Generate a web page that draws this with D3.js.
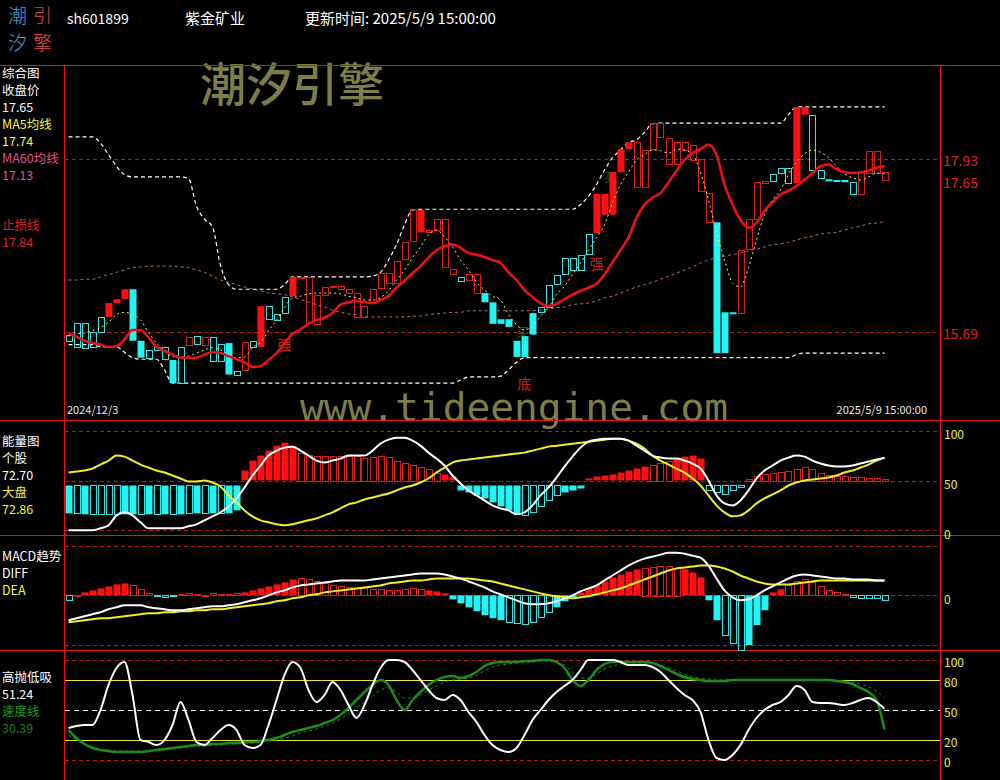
<!DOCTYPE html>
<html><head><meta charset="utf-8">
<script src="https://cdn.jsdelivr.net/npm/d3@7"></script>
<style>html,body{margin:0;background:#000;}svg{display:block;}</style>
</head><body>
<svg id="c" width="1000" height="780"></svg>
<script>
// ---------------- DATA ----------------
const stockCode = "sh601899";
const stockName = "紫金矿业";
const updateTime = "更新时间: 2025/5/9 15:00:00";
const firstDate = "2024/12/3";
const lastDate = "2025/5/9 15:00:00";

// candle bodies (box top / box bottom) and style: R filled red, r hollow red, C filled cyan, c hollow cyan
const bodyTop = [15.65,15.80,15.80,15.68,15.88,16.06,16.11,16.24,16.24,15.57,15.45,15.49,15.49,15.32,15.49,15.62,15.63,15.62,15.62,15.53,15.54,15.18,15.55,15.57,16.02,16.02,15.92,16.14,16.40,16.40,16.40,16.17,16.27,16.28,16.28,16.24,16.19,16.02,16.24,16.45,16.45,16.61,16.85,17.28,17.27,17.01,17.15,17.15,16.50,16.40,16.44,16.44,16.19,16.07,15.85,15.85,15.57,15.63,15.93,16.01,16.30,16.43,16.65,16.65,16.69,16.96,17.48,17.48,17.76,18.06,18.15,18.15,18.05,18.40,18.40,18.21,18.15,18.15,18.12,17.93,17.49,17.11,15.94,15.94,16.75,17.15,17.63,17.65,17.74,17.82,17.82,18.61,18.61,18.51,17.79,17.67,17.66,17.66,17.63,17.76,18.04,18.04,17.76];
const bodyBot = [15.57,15.49,15.48,15.48,15.68,15.88,16.06,16.11,15.57,15.35,15.35,15.45,15.33,15.02,15.02,15.52,15.52,15.52,15.31,15.31,15.13,15.13,15.19,15.49,15.49,15.85,15.84,15.93,16.15,16.39,15.80,15.79,16.17,16.27,16.24,16.19,15.88,15.88,16.06,16.26,16.32,16.32,16.63,16.87,16.98,16.98,17.01,16.52,16.43,16.35,16.36,16.19,16.07,15.79,15.79,15.75,15.36,15.36,15.65,15.94,16.01,16.31,16.44,16.49,16.49,16.70,16.97,17.21,17.21,17.76,18.06,17.57,17.57,18.06,18.22,17.87,17.87,18.05,17.93,17.52,17.11,15.41,15.41,15.93,15.93,16.76,17.15,17.63,17.65,17.75,17.63,17.62,18.51,17.80,17.69,17.65,17.65,17.63,17.48,17.48,17.76,17.76,17.65];
const bodyKind = "cccccRRRCCcccCcrcrccCcrcRcccRrrrrrrrrrrrrrrrRrrrrcrrCCCCCCCcccccccRRRRRrrrrrrrrrrCCCrrrrcccRRccCCCcrrrr";

const ma5 = [15.63,15.66,15.67,15.70,15.74,15.81,15.91,15.94,15.91,15.84,15.68,15.54,15.44,15.36,15.36,15.37,15.41,15.45,15.48,15.45,15.39,15.35,15.36,15.48,15.55,15.70,15.84,16.00,16.13,16.15,16.18,16.19,16.19,16.19,16.18,16.15,16.13,16.10,16.10,16.13,16.22,16.36,16.49,16.65,16.79,16.95,17.01,16.92,16.79,16.62,16.49,16.33,16.23,16.15,16.10,15.91,15.78,15.71,15.76,15.89,16.00,16.17,16.28,16.43,16.58,16.75,16.91,17.08,17.36,17.60,17.76,17.92,17.99,18.05,18.04,18.01,18.06,18.05,17.99,17.76,17.40,16.98,16.62,16.32,16.27,16.52,16.88,17.21,17.40,17.53,17.73,17.89,18.00,18.05,18.02,17.95,17.84,17.74,17.69,17.66,17.70,17.75,17.74];
const ma60 = [16.36,16.36,16.37,16.37,16.40,16.43,16.46,16.49,16.52,16.53,16.54,16.54,16.54,16.54,16.53,16.52,16.49,16.46,16.41,16.36,16.33,16.30,16.27,16.24,16.22,16.19,16.18,16.17,16.14,16.11,16.07,16.04,16.01,15.97,15.94,15.92,15.91,15.89,15.88,15.88,15.88,15.88,15.88,15.89,15.89,15.91,15.92,15.93,15.94,15.94,15.96,15.96,15.96,15.96,15.96,15.96,15.96,15.96,15.96,15.97,15.98,16.00,16.01,16.04,16.05,16.06,16.09,16.13,16.15,16.19,16.23,16.27,16.30,16.33,16.37,16.41,16.45,16.49,16.53,16.58,16.62,16.65,16.67,16.69,16.71,16.74,16.76,16.79,16.82,16.83,16.85,16.88,16.91,16.93,16.96,16.97,16.98,17.01,17.04,17.06,17.09,17.10,17.12];
const stopLine = [15.67,15.62,15.57,15.54,15.52,15.49,15.50,15.59,15.71,15.71,15.61,15.49,15.44,15.39,15.35,15.35,15.35,15.39,15.42,15.41,15.37,15.33,15.29,15.23,15.24,15.32,15.41,15.54,15.66,15.72,15.79,15.84,15.87,15.93,16.04,16.07,16.09,16.07,16.06,16.10,16.15,16.26,16.35,16.45,16.54,16.65,16.75,16.80,16.82,16.78,16.71,16.69,16.66,16.62,16.58,16.46,16.36,16.23,16.14,16.06,16.02,16.05,16.11,16.17,16.22,16.26,16.31,16.43,16.59,16.75,16.91,17.17,17.34,17.43,17.49,17.63,17.78,17.92,18.01,18.06,18.12,17.99,17.60,17.34,17.14,17.04,17.10,17.26,17.37,17.47,17.52,17.58,17.66,17.75,17.84,17.86,17.80,17.76,17.75,17.76,17.78,17.82,17.84];
const upperBand = [18.22,18.22,18.22,18.22,18.14,17.99,17.84,17.73,17.70,17.70,17.70,17.70,17.70,17.70,17.70,17.68,17.32,17.15,17.05,16.55,16.30,16.24,16.24,16.24,16.24,16.24,16.24,16.30,16.40,16.40,16.40,16.40,16.40,16.40,16.40,16.40,16.40,16.40,16.41,16.46,16.62,16.82,17.08,17.27,17.28,17.28,17.28,17.28,17.28,17.28,17.28,17.28,17.28,17.28,17.28,17.28,17.28,17.28,17.28,17.28,17.28,17.28,17.28,17.28,17.34,17.45,17.60,17.79,17.95,18.05,18.15,18.18,18.28,18.39,18.40,18.40,18.40,18.40,18.40,18.40,18.40,18.40,18.40,18.40,18.40,18.40,18.40,18.40,18.40,18.40,18.51,18.61,18.61,18.61,18.61,18.61,18.61,18.61,18.61,18.61,18.61,18.61,18.61];
const lowerBand = [15.52,15.52,15.52,15.52,15.49,15.49,15.49,15.42,15.35,15.33,15.33,15.33,15.19,15.02,15.02,15.02,15.02,15.02,15.02,15.02,15.02,15.02,15.02,15.02,15.02,15.02,15.02,15.02,15.02,15.02,15.02,15.02,15.02,15.02,15.02,15.02,15.02,15.02,15.02,15.02,15.02,15.02,15.02,15.02,15.02,15.02,15.02,15.02,15.02,15.06,15.10,15.10,15.10,15.10,15.11,15.19,15.29,15.35,15.35,15.35,15.35,15.35,15.35,15.35,15.35,15.35,15.35,15.35,15.35,15.35,15.35,15.35,15.35,15.35,15.35,15.35,15.35,15.35,15.35,15.35,15.35,15.35,15.35,15.35,15.35,15.35,15.35,15.35,15.35,15.35,15.35,15.39,15.41,15.41,15.41,15.41,15.41,15.41,15.41,15.41,15.41,15.41,15.41];
const priceMarks = [17.93, 15.69];
const lastClose = 17.65;
const ma60Last = 17.13;
const signals = [{i:27, p:15.45, t:"强", c:"#c82020"},{i:66, p:16.50, t:"强", c:"#c82020"},{i:57, p:15.02, t:"底", c:"#c82020", dy:6}];
const buyMarks = [{i:56, p:15.62, t:"买"}, {i:67, p:17.63, t:"买"}];

// energy panel
const energyStock = [0,0,0,0,2,5,15,18,15,8,2,2,2,2,2,4,6,10,14,18,24,32,43,55,65,75,80,83,84,80,75,70,68,70,72,75,75,75,80,87,91,93,93,90,85,78,72,65,55,47,40,35,30,25,22,20,16,18,25,35,43,53,64,74,83,89,91,92,92,92,90,85,80,75,73,72,72,70,67,62,50,35,27,25,30,40,52,60,65,70,73,75,74,70,67,65,64,64,65,67,69,71,72.7];
const energyMarket = [58,59,60,62,66,70,75,74,70,66,63,60,58,55,52,49,49,50,48,44,35,28,20,14,10,8,6,5,6,8,10,12,15,18,22,26,28,31,33,35,37,40,43,45,48,52,58,63,68,70,71,72,73,74,75,76,77,78,80,82,84,85,86,87,88,89,90,91,92,92,90,87,82,75,70,66,62,58,52,45,35,25,18,14,15,20,27,32,36,40,45,48,50,51,52,53,55,58,60,63,66,70,72.86];
const energyBar = [17,17,16,16,16,16,16,16,16,16,16,16,16,16,16,17,17,17,17,17,17,20,60,70,75,80,85,88,85,78,76,75,75,75,75,75,75,73,74,75,74,70,68,66,64,62,58,56,54,40,38,35,32,28,24,20,17,15,18,24,30,35,38,40,42,52,54,55,56,58,60,62,64,66,68,70,72,74,75,72,40,38,36,40,43,52,55,57,58,59,60,62,64,62,58,56,55,55,54,54,53,53,52];
const energyFill = "FHFHHHHFFHFHFHFHFHFHFFFFFFFFFHHHHHHHHHHHHHHHHHHFFFFFFFFFFHHHHHFFFFFFFFFFFHHHFFFFHHHHHHHHHHHHHHHHHHHHHHH";
const energyTicks = [100, 50, 0];
const energyWeakBase = 45;

// MACD panel
const diff = [-0.25,-0.23,-0.21,-0.19,-0.17,-0.14,-0.12,-0.10,-0.10,-0.10,-0.12,-0.13,-0.14,-0.15,-0.15,-0.14,-0.13,-0.12,-0.11,-0.11,-0.10,-0.09,-0.07,-0.05,-0.03,0.00,0.03,0.05,0.08,0.10,0.11,0.12,0.13,0.14,0.15,0.15,0.15,0.15,0.16,0.17,0.18,0.19,0.20,0.21,0.22,0.22,0.22,0.21,0.19,0.17,0.14,0.11,0.08,0.04,0.01,-0.02,-0.05,-0.08,-0.09,-0.09,-0.08,-0.06,-0.03,0.00,0.04,0.07,0.10,0.15,0.20,0.25,0.30,0.34,0.37,0.39,0.41,0.43,0.43,0.42,0.40,0.38,0.30,0.17,0.05,-0.02,-0.05,-0.04,0.00,0.05,0.09,0.13,0.17,0.20,0.21,0.20,0.19,0.18,0.17,0.17,0.16,0.16,0.16,0.15,0.15];
const dea = [-0.27,-0.26,-0.25,-0.24,-0.23,-0.23,-0.22,-0.21,-0.20,-0.19,-0.18,-0.18,-0.17,-0.17,-0.16,-0.16,-0.15,-0.15,-0.14,-0.14,-0.13,-0.12,-0.11,-0.10,-0.09,-0.08,-0.06,-0.05,-0.03,-0.02,0.00,0.01,0.03,0.04,0.05,0.06,0.07,0.08,0.09,0.10,0.12,0.13,0.14,0.15,0.15,0.16,0.17,0.17,0.17,0.17,0.17,0.16,0.15,0.14,0.12,0.10,0.08,0.06,0.04,0.02,0.00,-0.01,-0.02,-0.03,-0.02,-0.01,0.01,0.03,0.05,0.07,0.10,0.13,0.16,0.19,0.22,0.25,0.27,0.28,0.29,0.30,0.30,0.29,0.27,0.24,0.20,0.17,0.14,0.12,0.11,0.11,0.11,0.12,0.13,0.14,0.15,0.15,0.15,0.15,0.15,0.15,0.15,0.15,0.15];
const macdBar = [-0.05,0.00,0.03,0.05,0.07,0.09,0.11,0.12,0.10,0.06,0.02,-0.01,-0.02,-0.01,0.01,0.02,0.01,0.00,0.02,0.01,0.01,0.02,0.03,0.05,0.07,0.09,0.11,0.13,0.16,0.17,0.16,0.14,0.12,0.10,0.09,0.08,0.07,0.07,0.06,0.06,0.05,0.05,0.06,0.07,0.06,0.05,0.04,0.02,-0.04,-0.08,-0.12,-0.16,-0.20,-0.23,-0.25,-0.27,-0.28,-0.29,-0.27,-0.22,-0.17,-0.12,-0.06,-0.02,0.03,0.07,0.10,0.14,0.18,0.21,0.24,0.26,0.28,0.29,0.30,0.30,0.28,0.26,0.23,0.18,-0.05,-0.25,-0.40,-0.48,-0.55,-0.50,-0.30,-0.15,0.03,0.06,0.10,0.14,0.16,0.13,0.09,0.05,0.03,0.01,-0.02,-0.03,-0.03,-0.03,-0.05];
const macdFill = "HHFFFFFFHHHHHHHHHHHHHHFFFFFFFHHHHHHHHHHHHHHHHFFFFFFFFFFHHHHHHFFFFFFFFFFFHHHHHFFFFFHHHFFFFFHHHHHHHHHH";
const macdTicks = [0];

// high-sell low-buy panel
const hsWhite = [32,34,35,35,50,75,92,98,65,20,18,15,20,35,58,40,18,15,22,30,35,30,15,12,15,35,60,85,98,92,70,58,65,78,70,55,42,55,75,92,100,100,98,90,80,70,62,60,65,60,48,38,25,15,10,8,12,25,40,50,60,68,74,80,90,100,100,100,100,98,95,95,95,93,88,80,72,65,60,48,20,2,0,5,15,30,42,50,55,58,65,74,70,58,57,57,56,55,57,60,62,58,51.24];
const hsGreen = [30,22,16,12,10,9,8,8,8,8,9,10,11,12,13,14,15,15,16,16,17,17,18,18,19,20,22,25,28,30,32,34,37,40,45,52,60,68,75,80,75,60,50,60,68,75,80,83,84,82,84,88,94,97,98,98,98,99,99,100,100,98,92,80,74,80,90,96,98,98,98,98,98,97,94,90,86,83,81,80,79,79,79,80,80,80,80,80,80,80,80,80,80,80,80,80,79,78,76,72,68,60,30.39];
const hsGreenDash = [25,20,16,13,11,10,9,9,9,9,9,10,10,11,12,13,14,14,15,15,16,16,17,17,18,19,20,22,24,27,29,31,34,37,41,46,52,58,64,70,72,68,62,62,65,70,74,78,80,81,82,85,89,93,95,96,97,98,98,99,99,98,95,88,82,82,86,91,94,96,97,97,97,97,95,92,89,86,83,82,81,80,80,80,80,80,80,80,80,80,80,80,80,80,80,80,80,79,78,76,73,69,62];
const hsTicks = [100, 80, 50, 20, 0];

// ---------------- DRAW ----------------
const svg = d3.select("#c");
const W = 1000, H = 780;
const N = bodyTop.length;
const FONT = "'Noto Sans CJK SC','Noto Sans',sans-serif";
const RED = "#e8101a";
svg.append("rect").attr("width", W).attr("height", H).attr("fill", "#000");

const L = 64, R = 940;
const x = d3.scaleLinear().domain([0, N - 1]).range([68.5, 68.5 + 8 * (N - 1)]);
const y = d3.scaleLinear().domain([14.527, 19.155]).range([421, 65]);
const yE = d3.scaleLinear().domain([0, 100]).range([530.3, 430.7]);
const yM = d3.scaleLinear().domain([-0.5, 0.5]).range([645, 545.7]);
const yH = d3.scaleLinear().domain([0, 100]).range([760, 660]);

// watermark
svg.append("text").attr("x", 200).attr("y", 101).attr("fill", "#7d7d48")
  .attr("font-family", FONT).attr("font-size", 46).attr("font-weight", 500).text("潮汐引擎");
svg.append("text").attr("x", 300).attr("y", 421).attr("fill", "#7d7d48")
  .attr("font-family", "'DejaVu Sans Mono','Liberation Mono',monospace").attr("font-size", 39.5).text("www.tideengine.com");

// frame
const frame = svg.append("g").attr("stroke", RED).attr("stroke-width", 1).attr("shape-rendering", "crispEdges");
[65.5, 420.5, 535.5, 650.5].forEach(v => frame.append("line").attr("x1", 0).attr("x2", W).attr("y1", v).attr("y2", v));
[L + 0.5, R + 0.5].forEach(v => frame.append("line").attr("x1", v).attr("x2", v).attr("y1", 65).attr("y2", H));

function hline(g, yy, color, dash) {
  g.append("line").attr("x1", L + 1).attr("x2", R).attr("y1", Math.round(yy) + 0.5).attr("y2", Math.round(yy) + 0.5)
    .attr("stroke", color).attr("stroke-width", 1).attr("stroke-dasharray", dash || null).attr("shape-rendering", "crispEdges");
}

// ---- main panel ----
const main = svg.append("g");
priceMarks.forEach(p => hline(main, y(p), "#b81818", "4,3"));

const line = (acc, ys) => d3.line().x((d, i) => x(i)).y(d => ys(d)).curve(d3.curveMonotoneX)(acc);
main.append("path").attr("d", line(ma60, y)).attr("fill", "none").attr("stroke", "#c0608a").attr("stroke-width", 1).attr("stroke-dasharray", "3,3");
main.append("path").attr("d", line(upperBand, y)).attr("fill", "none").attr("stroke", "#ffffff").attr("stroke-width", 1.2).attr("stroke-dasharray", "4,3");
main.append("path").attr("d", line(lowerBand, y)).attr("fill", "none").attr("stroke", "#ffffff").attr("stroke-width", 1.2).attr("stroke-dasharray", "4,3");

buyMarks.forEach(s => main.append("text").attr("x", x(s.i)).attr("y", y(s.p)).attr("text-anchor", "start")
  .attr("fill", "#1e6e1e").attr("font-family", FONT).attr("font-size", 12).text(s.t));

const kindColor = {R: "#ff1010", r: "#d42020", C: "#20f4f4", c: "#3ae0e0"};
bodyTop.forEach((t, i) => {
  const k = bodyKind[i];
  const y1 = y(t), y2 = y(bodyBot[i]);
  const h = Math.max(1, y2 - y1);
  if (k === "R" || k === "C") {
    main.append("rect").attr("x", x(i) - 3).attr("y", y1).attr("width", 7).attr("height", Math.max(2, h)).attr("fill", kindColor[k]);
  } else {
    main.append("rect").attr("x", Math.round(x(i) - 3) + 0.5).attr("y", Math.round(y1) + 0.5).attr("width", 6).attr("height", Math.max(1, Math.round(h)))
      .attr("fill", "none").attr("stroke", kindColor[k]).attr("stroke-width", 1).attr("shape-rendering", "crispEdges");
  }
});

main.append("path").attr("d", line(ma5, y)).attr("fill", "none").attr("stroke", "#f4f460").attr("stroke-width", 1).attr("stroke-dasharray", "2,3");
main.append("path").attr("d", line(stopLine, y)).attr("fill", "none").attr("stroke", RED).attr("stroke-width", 2.6);

signals.forEach(s => main.append("text").attr("x", x(s.i)).attr("y", y(s.p) + (s.dy || 0)).attr("text-anchor", "middle")
  .attr("fill", s.c).attr("font-family", FONT).attr("font-size", 14).text(s.t));

// right axis main
const axMain = d3.axisRight(y).tickValues([priceMarks[0], lastClose, priceMarks[1]]).tickSize(0).tickPadding(3).tickFormat(d3.format(".2f"));
const gAx = svg.append("g").attr("transform", `translate(${R},2)`).call(axMain);
gAx.select(".domain").remove();
gAx.selectAll("text").attr("fill", "#e02020").attr("font-family", FONT).attr("font-size", 14);

// date labels
svg.append("text").attr("x", 67).attr("y", 414).attr("fill", "#e8e8e8").attr("font-family", FONT).attr("font-size", 11).text(firstDate);
svg.append("text").attr("x", 927).attr("y", 414).attr("text-anchor", "end").attr("fill", "#e8e8e8").attr("font-family", FONT).attr("font-size", 11).text(lastDate);

// ---- bars helper ----
function bars(g, vals, fills, base, weakBase, ys) {
  vals.forEach((v, i) => {
    const up = v >= base;
    const b = up ? base : weakBase;
    const col = up ? "#ff1010" : "#20f4f4";
    const y1 = Math.min(ys(v), ys(b)), h = Math.abs(ys(v) - ys(b));
    if (fills[i] === "F") g.append("rect").attr("x", x(i) - 3).attr("y", y1).attr("width", 7).attr("height", Math.max(1, h)).attr("fill", col);
    else g.append("rect").attr("x", Math.round(x(i) - 3) + 0.5).attr("y", Math.round(y1) + 0.5).attr("width", 6).attr("height", Math.max(1, Math.round(h)))
      .attr("fill", "none").attr("stroke", up ? "#d42020" : "#3ae0e0").attr("shape-rendering", "crispEdges");
  });
}
function rightAxis(ys, ticks, dy) {
  const g = svg.append("g").attr("transform", `translate(${R},${dy})`)
    .call(d3.axisRight(ys).tickValues(ticks).tickSize(0).tickPadding(4).tickFormat(d3.format("d")));
  g.select(".domain").remove();
  g.selectAll("text").attr("fill", "#f0f040").attr("font-family", FONT).attr("font-size", 12);
}

// ---- energy panel ----
const eg = svg.append("g");
energyTicks.forEach(t => hline(eg, yE(t), "#b81818", "4,3"));
bars(eg, energyBar, energyFill, 50, energyWeakBase, yE);
eg.append("path").attr("d", line(energyMarket, yE)).attr("fill", "none").attr("stroke", "#f0f020").attr("stroke-width", 2);
eg.append("path").attr("d", line(energyStock, yE)).attr("fill", "none").attr("stroke", "#ffffff").attr("stroke-width", 2);
rightAxis(yE, energyTicks, 4);

// ---- MACD panel ----
const mg = svg.append("g");
[0.5, 0, -0.5].forEach(t => hline(mg, yM(t), "#b81818", "4,3"));
bars(mg, macdBar, macdFill, 0, 0, yM);
mg.append("path").attr("d", line(dea, yM)).attr("fill", "none").attr("stroke", "#f0f020").attr("stroke-width", 2);
mg.append("path").attr("d", line(diff, yM)).attr("fill", "none").attr("stroke", "#ffffff").attr("stroke-width", 2);
rightAxis(yM, macdTicks, 4);

// ---- high/low panel ----
const hg = svg.append("g");
hline(hg, yH(100), "#b81818", "4,3");
hline(hg, yH(80), "#e8e830");
hline(hg, yH(50), "#ffffff", "5,4");
hline(hg, yH(20), "#e8e830");
hline(hg, yH(0), "#b81818", "4,3");
hg.append("path").attr("d", line(hsGreenDash, yH)).attr("fill", "none").attr("stroke", "#1f8a1f").attr("stroke-width", 1).attr("stroke-dasharray", "3,3");
hg.append("path").attr("d", line(hsGreen, yH)).attr("fill", "none").attr("stroke", "#1c8c1c").attr("stroke-width", 2.5);
hg.append("path").attr("d", line(hsWhite, yH)).attr("fill", "none").attr("stroke", "#ffffff").attr("stroke-width", 2);
rightAxis(yH, hsTicks, 3);

// ---- left legends ----
const legends = [
  {t: "综合图", y: 78, c: "#ffffff"}, {t: "收盘价", y: 95, c: "#ffffff"}, {t: lastClose.toFixed(2), y: 112, c: "#ffffff"},
  {t: "MA5均线", y: 129, c: "#f4f440"}, {t: ma5[N - 1].toFixed(2), y: 146, c: "#f4f440"},
  {t: "MA60均线", y: 163, c: "#e0508a"}, {t: ma60Last.toFixed(2), y: 180, c: "#e0508a"},
  {t: "止损线", y: 230, c: "#e02020"}, {t: stopLine[N - 1].toFixed(2), y: 247, c: "#e02020"},
  {t: "能量图", y: 446, c: "#ffffff"}, {t: "个股", y: 463, c: "#ffffff"}, {t: energyStock[N - 1].toFixed(2), y: 480, c: "#ffffff"},
  {t: "大盘", y: 497, c: "#f4f440"}, {t: energyMarket[N - 1].toFixed(2), y: 514, c: "#f4f440"},
  {t: "MACD趋势", y: 561, c: "#ffffff"}, {t: "DIFF", y: 578, c: "#ffffff"}, {t: "DEA", y: 595, c: "#f4f440"},
  {t: "高抛低吸", y: 682, c: "#ffffff"}, {t: hsWhite[N - 1].toFixed(2), y: 699, c: "#ffffff"},
  {t: "速度线", y: 716, c: "#1c9c1c"}, {t: hsGreen[N - 1].toFixed(2), y: 733, c: "#1c7a1c"}
];
legends.forEach(d => svg.append("text").attr("x", 2).attr("y", d.y).attr("fill", d.c).attr("font-family", FONT).attr("font-size", 12.5).text(d.t));

// ---- header ----
const logoRows = [{y: 23, a: "潮", b: "引"}, {y: 50, a: "汐", b: "擎"}];
logoRows.forEach(r => {
  const t = svg.append("text").attr("x", 8).attr("y", r.y).attr("font-family", FONT).attr("font-size", 19).attr("font-weight", 300);
  t.append("tspan").attr("fill", "#4aa0d8").text(r.a);
  t.append("tspan").attr("dx", 6).attr("fill", "#e04848").text(r.b);
});
svg.append("text").attr("x", 67).attr("y", 24).attr("fill", "#ffffff").attr("font-family", FONT).attr("font-size", 14).text(stockCode);
svg.append("text").attr("x", 185).attr("y", 24).attr("fill", "#ffffff").attr("font-family", FONT).attr("font-size", 15).text(stockName);
svg.append("text").attr("x", 305).attr("y", 24).attr("fill", "#ffffff").attr("font-family", FONT).attr("font-size", 15).text(updateTime);
</script>
</body></html>
